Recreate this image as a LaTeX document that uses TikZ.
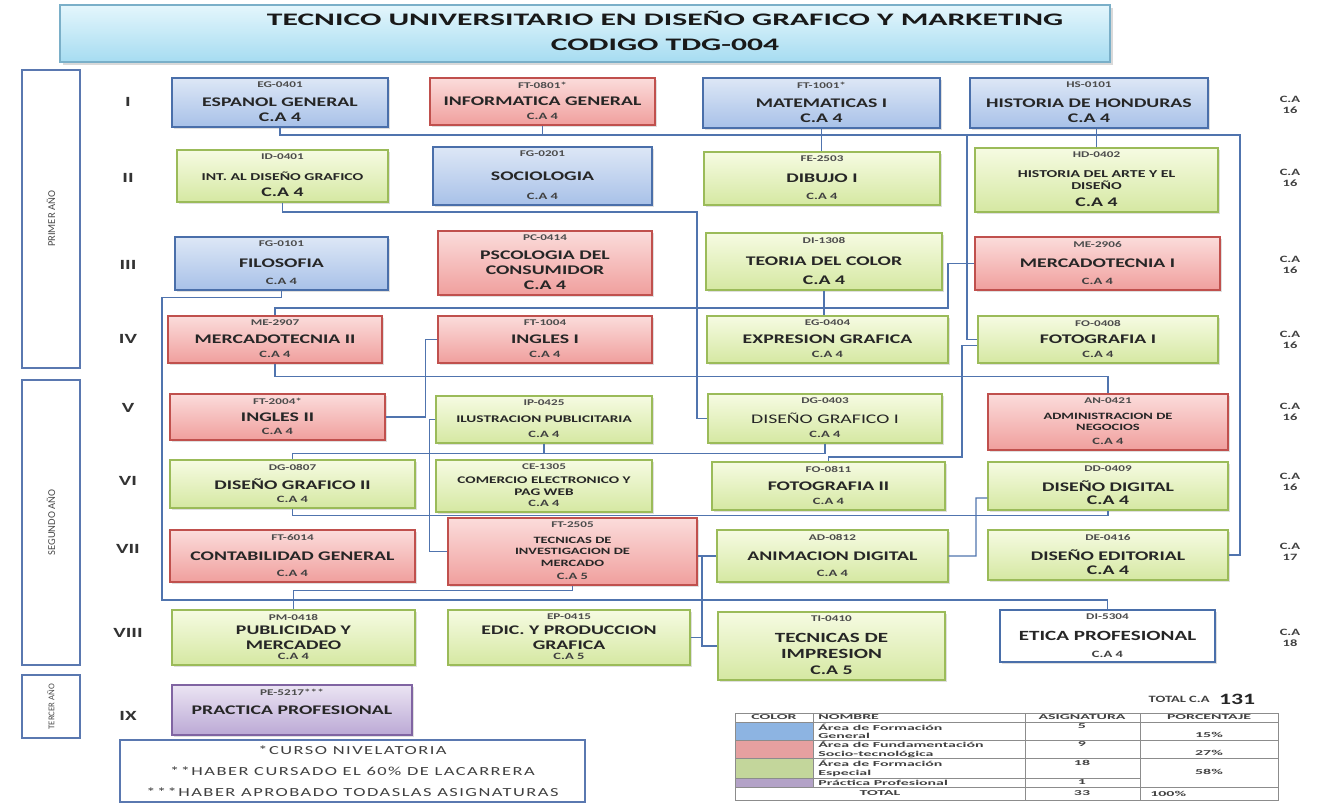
\documentclass[tikz,border=0pt]{standalone}
\usepackage{fontspec}
\setmainfont{Carlito}[FakeStretch=1.5]
\newfontfamily\espaciada{Carlito}[FakeStretch=1.5, LetterSpace=12]
\newfontfamily\delgada{Carlito}
\newfontfamily\ancha{Carlito}[FakeStretch=1.8]
\newfontfamily\tablafont{Carlito}[FakeStretch=2.1]
\usetikzlibrary{positioning, shadows}

\definecolor{azulA}{HTML}{DDE7F6}
\definecolor{azulB}{HTML}{A8C1E8}
\definecolor{azulBorde}{HTML}{4A6FAA}
\definecolor{rojoA}{HTML}{FBDCDB}
\definecolor{rojoB}{HTML}{F09F9D}
\definecolor{rojoBorde}{HTML}{C0504D}
\definecolor{verdeA}{HTML}{F6FBE2}
\definecolor{verdeB}{HTML}{D5E8A2}
\definecolor{verdeBorde}{HTML}{9BBB59}
\definecolor{moradoA}{HTML}{EBE4F3}
\definecolor{moradoB}{HTML}{BBA9D5}
\definecolor{moradoBorde}{HTML}{8064A2}
\definecolor{cieloA}{HTML}{E4F6FC}
\definecolor{cieloB}{HTML}{A6DCF1}
\definecolor{cieloBorde}{HTML}{7AAFC8}
\definecolor{enlaceC}{HTML}{5074AE}
\definecolor{anioBorde}{HTML}{5A78B0}
\definecolor{leyAzul}{HTML}{8DB4E2}
\definecolor{leyRojo}{HTML}{E6A0A0}
\definecolor{leyVerde}{HTML}{C3D69B}
\definecolor{leyMorado}{HTML}{B3A2C7}

\tikzset{
  wh/.style 2 args={minimum width=#1*0.02cm, minimum height=#2*0.02cm},
  curso/.style={draw, line width=0.7pt, inner sep=1pt, align=center, text=black!85,
    font=\fontsize{7.5}{8.5}\selectfont\bfseries,
    drop shadow={opacity=0.25, shadow xshift=1pt, shadow yshift=-1pt}},
  general/.style={curso, draw=azulBorde, top color=azulA, bottom color=azulB},
  fundam/.style={curso, draw=rojoBorde, top color=rojoA, bottom color=rojoB},
  especial/.style={curso, draw=verdeBorde, top color=verdeA, bottom color=verdeB},
  practica/.style={curso, draw=moradoBorde, top color=moradoA, bottom color=moradoB},
  codigo/.style={font=\fontsize{5}{6}\selectfont\bfseries, text=black!70, anchor=north, inner sep=2.5pt},
  cod/.style={label={[codigo]north:#1}},
  ca/.style={label={[font=\fontsize{5.5}{6}\selectfont\bfseries, text=black!75, anchor=south, inner sep=3pt]south:#1}},
  cag/.style={label={[font=\fontsize{7.5}{8.5}\selectfont\bfseries, text=black!85, anchor=south, inner sep=3pt]south:#1}},
  enlace/.style={draw=enlaceC, line width=0.8pt},
  romano/.style={font=\fontsize{8}{9}\selectfont\bfseries, text=black!80},
  credito/.style={font=\fontsize{5.5}{6.5}\selectfont\bfseries, align=center, text=black!75},
  anio/.style={draw=anioBorde, line width=1.3pt, fill=white, inner sep=1pt,
    font=\fontsize{6}{7}\selectfont\delgada, text=black!70},
  encabezado/.style={draw=cieloBorde, line width=0.6pt, top color=cieloA, bottom color=cieloB,
    drop shadow={opacity=0.3, shadow xshift=1.5pt, shadow yshift=-1.5pt}},
  tabla/.style={draw=black!45, line width=0.4pt},
  celda/.style={font=\fontsize{4.3}{4.9}\selectfont\tablafont\bfseries, text=black!75, inner sep=0pt, align=center},
}

\begin{document}
\begin{tikzpicture}[x=0.02cm, y=-0.02cm]
\useasboundingbox (0,0) rectangle (1341,803);

% encabezado
\node[encabezado, wh={1050}{57}] (cabecera) at (585,33.5) {};
\node[align=center, font=\fontsize{10}{14}\selectfont\ancha\bfseries, text=black!90] (titulo) at (665,31)
  {TECNICO UNIVERSITARIO EN DISEÑO GRAFICO Y MARKETING\\CODIGO TDG-004};

% años
\node[anio, rotate=90, wh={298}{58}] (primero) at (51,219) {PRIMER AÑO};
\node[anio, rotate=90, wh={285}{58}] (segundo) at (51,522.5) {SEGUNDO AÑO};
\node[anio, rotate=90, wh={63}{58}, font=\fontsize{5}{6}\selectfont\delgada] (tercero) at (51,706.5) {TERCER AÑO};

% periodos y creditos
\foreach \r/\y in {I/102, II/178, III/265, IV/339, V/408, VI/481, VII/549, VIII/633, IX/716}
  \node[romano] (r\r) at (128,\y) {\r};
\foreach \n/\y/\v in {1/105/16, 2/178/16, 3/265/16, 4/340/16, 5/412/16, 6/482/16, 7/552/17, 8/638/18}
  \node[credito] (ca\n) at (1290,\y) {C.A\\\v};

% I
\node[general, wh={216}{49}, cod=EG-0401, cag=C.A 4] (espanol) at (280,102.5) {ESPANOL GENERAL};
\node[fundam, wh={225}{47}, cod=FT-0801*, ca=C.A 4] (informatica) at (542.5,101.5) {INFORMATICA GENERAL};
\node[general, wh={237}{50}, cod=FT-1001*, cag=C.A 4] (matematicas) at (821.5,103) {MATEMATICAS I};
\node[general, wh={238}{50}, cod=HS-0101, cag=C.A 4] (honduras) at (1089,103) {HISTORIA DE HONDURAS};

% II
\node[especial, wh={211}{52}, cod=ID-0401, cag=C.A 4, font=\fontsize{6}{7}\selectfont\bfseries] (intdiseno) at (282.5,176) {INT. AL DISEÑO GRAFICO};
\node[general, wh={219}{58}, cod=FG-0201, ca=C.A 4] (sociologia) at (542.5,176) {SOCIOLOGIA};
\node[especial, wh={236}{53}, cod=FE-2503, ca=C.A 4] (dibujo) at (822,178.5) {DIBUJO I};
\node[especial, wh={243}{64}, cod=HD-0402, cag=C.A 4, font=\fontsize{6}{7}\selectfont\bfseries] (histarte) at (1096.5,180) {HISTORIA DEL ARTE Y EL\\DISEÑO};

% III
\node[general, wh={213}{53}, cod=FG-0101, ca=C.A 4] (filosofia) at (281.5,263.5) {FILOSOFIA};
\node[fundam, wh={214}{64}, cod=PC-0414, cag=C.A 4] (psicologia) at (545,263) {PSCOLOGIA DEL\\CONSUMIDOR};
\node[especial, wh={236}{57}, cod=DI-1308, cag=C.A 4] (teoria) at (824,261.5) {TEORIA DEL COLOR};
\node[fundam, wh={245}{53}, cod=ME-2906, ca=C.A 4] (mercadoI) at (1097.5,263.5) {MERCADOTECNIA I};

% IV
\node[fundam, wh={214}{47}, cod=ME-2907, ca=C.A 4] (mercadoII) at (275,339.5) {MERCADOTECNIA II};
\node[fundam, wh={214}{47}, cod=FT-1004, ca=C.A 4] (inglesI) at (545,339.5) {INGLES I};
\node[especial, wh={241}{47}, cod=EG-0404, ca=C.A 4] (expresion) at (827.5,339.5) {EXPRESION GRAFICA};
\node[especial, wh={240}{47}, cod=FO-0408, ca=C.A 4] (fotoI) at (1098,339.5) {FOTOGRAFIA I};

% V
\node[fundam, wh={215}{46}, cod=FT-2004*, ca=C.A 4] (inglesII) at (277.5,417) {INGLES II};
\node[especial, wh={216}{47}, cod=IP-0425, ca=C.A 4, font=\fontsize{5.8}{7}\selectfont\bfseries] (ilustracion) at (544,419.5) {ILUSTRACION PUBLICITARIA};
\node[especial, wh={234}{49}, cod=DG-0403, ca=C.A 4, font=\fontsize{7.5}{9}\selectfont] (disenoI) at (825,418.5) {DISEÑO GRAFICO I};
\node[fundam, wh={240}{56}, cod=AN-0421, ca=C.A 4, font=\fontsize{5.5}{6.5}\selectfont\bfseries] (admin) at (1108,422) {ADMINISTRACION DE\\NEGOCIOS};

% VI
\node[especial, wh={245}{48}, cod=DG-0807, ca=C.A 4] (disenoII) at (292.5,484) {DISEÑO GRAFICO II};
\node[especial, wh={216}{52}, cod=CE-1305, ca=C.A 4, font=\fontsize{5.8}{7}\selectfont\bfseries] (comercio) at (544,486) {COMERCIO ELECTRONICO Y\\PAG WEB};
\node[especial, wh={233}{48}, cod=FO-0811, ca=C.A 4] (fotoII) at (828.5,486) {FOTOGRAFIA II};
\node[especial, wh={240}{48}, cod=DD-0409, cag=C.A 4] (digital) at (1108,486) {DISEÑO DIGITAL};

% VII
\node[fundam, wh={245}{52}, cod=FT-6014, ca=C.A 4] (contab) at (292.5,556) {CONTABILIDAD GENERAL};
\node[fundam, wh={249}{67}, cod=FT-2505, ca=C.A 5, font=\fontsize{5.5}{6.5}\selectfont\bfseries] (tecinv) at (572.5,551.5) {TECNICAS DE\\INVESTIGACION DE\\MERCADO};
\node[especial, wh={231}{52}, cod=AD-0812, ca=C.A 4] (animacion) at (832.5,556) {ANIMACION DIGITAL};
\node[especial, wh={240}{50}, cod=DE-0416, cag=C.A 4] (editorial) at (1108,555) {DISEÑO EDITORIAL};

% VIII
\node[especial, wh={243}{55}, cod=PM-0418, ca=C.A 4] (publicidad) at (293.5,637.5) {PUBLICIDAD Y\\MERCADEO};
\node[especial, wh={242}{55}, cod=EP-0415, ca=C.A 5] (edicion) at (569,637.5) {EDIC. Y PRODUCCION\\GRAFICA};
\node[especial, wh={227}{68}, cod=TI-0410, cag=C.A 5, font=\fontsize{8}{9.5}\selectfont\bfseries] (impresion) at (831.5,646) {TECNICAS DE\\IMPRESION};
\node[curso, draw=azulBorde, line width=1.1pt, fill=white, wh={215}{52}, cod=DI-5304, ca=C.A 4, font=\fontsize{8}{9.5}\selectfont\bfseries] (etica) at (1107.5,636) {ETICA PROFESIONAL};

% IX
\node[practica, wh={240}{50}, cod=PE-5217***] (practica) at (292,710) {PRACTICA PROFESIONAL};

% conexiones
\coordinate (nudo1) at (967,135);
\coordinate (nudo2) at (702,556);
\draw[enlace] (espanol.south) |- (1240,135) |- (editorial.east);
\draw[enlace] (informatica.south) -- (informatica.south |- nudo1);
\draw[enlace] (nudo1) |- (fotoI.west);
\draw[enlace] (histarte.north) -- (histarte.north |- honduras.south);
\draw[enlace] (matematicas.south) -- (matematicas.south |- dibujo.north);
\draw[enlace] (intdiseno.south) |- (697,212) |- (disenoI.west);
\draw[enlace] (filosofia.south) -- ++(0,7) -| (162,600) -| (etica.north);
\draw[enlace] (mercadoI.west) -| (948,308) -| (mercadoII.north);
\draw[enlace] (mercadoII.south) -- ++(0,13) -| (admin.north);
\draw[enlace] (teoria.south) -- (teoria.south |- expresion.north);
\draw[enlace] (inglesI.west) -- ++(-12,0) |- (inglesII.east);
\draw[enlace] (ilustracion.west) -- ++(-6,0) |- (tecinv.west);
\draw[enlace] (disenoI.south) -- ++(0,10) -| (disenoII.north);
\draw[enlace] (ilustracion.south) -- ++(0,10);
\draw[enlace] ([yshift=-0.12cm]fotoI.west) -| (962,457) -| (fotoII.north);
\draw[enlace] (animacion.east) -| (976,498) -- ([yshift=-0.24cm]digital.west);
\draw[enlace] (disenoII.south) -- ++(0,7) -| (digital.south);
\draw[enlace] (tecinv.east |- animacion.west) -- (animacion.west);
\draw[enlace] (nudo2) |- (impresion.west);
\draw[enlace] (edicion.east) -- (edicion.east -| nudo2);
\draw[enlace] (tecinv.south) -- ++(0,5) -| (publicidad.north);

% notas
\node[draw=anioBorde, line width=1.3pt, fill=white, wh={465}{60}, align=center,
  font=\fontsize{7}{11.8}\selectfont\espaciada, text=black!75] (notas) at (352.5,771)
  {*CURSO NIVELATORIA\\**HABER CURSADO EL 60\% DE LACARRERA\\***HABER APROBADO TODASLAS ASIGNATURAS};

% total
\node[font=\fontsize{5.5}{6}\selectfont\bfseries, text=black!75, inner sep=0pt, anchor=east] (totalca) at (1210,699) {TOTAL C.A};
\node[font=\fontsize{9}{10}\selectfont\bfseries, text=black!85, inner sep=0pt, right=5pt of totalca] (total) {131};

% leyenda
\fill[leyAzul] (735,722) rectangle (813,740);
\fill[leyRojo] (735,740) rectangle (813,758);
\fill[leyVerde] (735,758) rectangle (813,778);
\fill[leyMorado] (735,778) rectangle (813,787);
\draw[tabla] (735,713) rectangle (1278,800);
\draw[tabla] (813,713) -- (813,787) (1025,713) -- (1025,800) (1140,713) -- (1140,800);
\draw[tabla] (735,722) -- (1278,722) (735,740) -- (1278,740) (735,758) -- (1278,758)
  (735,778) -- (1140,778) (735,787) -- (1278,787);
\node[celda] (hcolor) at (774,717.5) {COLOR};
\node[celda, anchor=west] (hnombre) at (818,717.5) {NOMBRE};
\node[celda] (hasig) at (1082,717.5) {ASIGNATURA};
\node[celda] (hpor) at (1209,717.5) {PORCENTAJE};
\node[celda, anchor=west, align=left] (nom1) at (818,731.5) {Área de Formación\\General};
\node[celda, anchor=west, align=left] (nom2) at (818,749.5) {Área de Fundamentación\\Socio-tecnológica};
\node[celda, anchor=west, align=left] (nom3) at (818,768.5) {Área de Formación\\Especial};
\node[celda, anchor=west] (nom4) at (818,782.5) {Práctica Profesional};
\node[celda] (tot) at (880,793.5) {TOTAL};
\node[celda] (asig1) at (1082,726.5) {5};
\node[celda] (asig2) at (1082,744.5) {9};
\node[celda] (asig3) at (1082,763) {18};
\node[celda] (asig4) at (1082,782.5) {1};
\node[celda] (asig5) at (1082,793.5) {33};
\node[celda] (por1) at (1209,735) {15\%};
\node[celda] (por2) at (1209,753) {27\%};
\node[celda] (por3) at (1209,772) {58\%};
\node[celda, anchor=west] (por4) at (1150,793.5) {100\%};
\end{tikzpicture}
\end{document}
